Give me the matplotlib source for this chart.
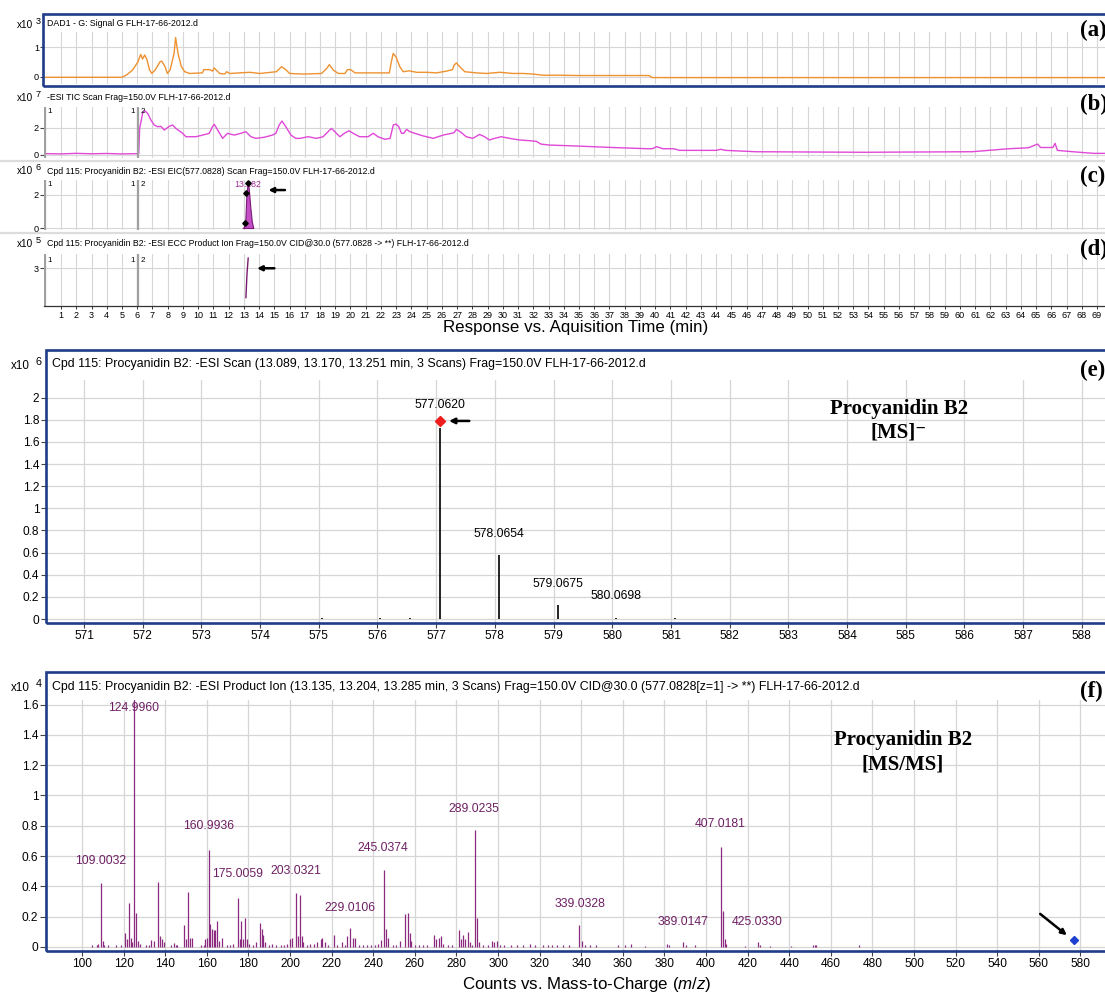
import matplotlib
matplotlib.use("Agg")
import matplotlib.pyplot as plt
from matplotlib.patches import Rectangle
from matplotlib.ticker import FuncFormatter
import numpy as np

plt.rcParams["font.family"] = ["Liberation Sans", "DejaVu Sans"]
plt.rcParams["mathtext.fontset"] = "custom"
plt.rcParams["mathtext.rm"] = "Liberation Sans"
plt.rcParams["mathtext.it"] = "Liberation Sans:italic"

# ---------------- data ----------------
# (a) DAD signal, x10^3
dad_t = [0, 5.0, 5.3, 5.7, 6.05, 6.23, 6.35, 6.49, 6.64, 6.81, 6.96, 7.18, 7.5, 7.61,
         7.83, 7.98, 8.16, 8.42, 8.52, 8.68, 8.9, 9.12, 9.45, 10.28, 10.37, 10.76, 10.94,
         11.05, 11.2, 11.42, 11.75, 11.86, 12.08, 12.73, 13.39, 14.05, 15.14, 15.47, 15.75,
         16.0, 16.9, 18.1, 18.44, 18.61, 18.88, 19.2, 19.64, 19.8, 20.01, 20.3, 21.06, 22.55,
         22.66, 22.8, 22.98, 23.24, 23.46, 23.85, 24.33, 25.0, 25.65, 26.3, 26.7, 26.8, 26.95,
         27.17, 27.5, 28.26, 28.92, 29.8, 30.67, 31.33, 31.98, 32.64, 33.7, 35.0, 39.6, 39.8, 70.5]
dad_v = [-0.02, -0.02, 0.06, 0.23, 0.51, 0.76, 0.6, 0.74, 0.58, 0.23, 0.11, 0.23, 0.51, 0.53,
         0.34, 0.11, 0.23, 0.79, 1.33, 0.79, 0.34, 0.17, 0.11, 0.13, 0.24, 0.24, 0.19,
         0.30, 0.22, 0.11, 0.09, 0.17, 0.11, 0.13, 0.15, 0.11, 0.17, 0.34, 0.24,
         0.11, 0.09, 0.11, 0.28, 0.41, 0.22, 0.11, 0.11, 0.24, 0.24, 0.13, 0.13, 0.13,
         0.45, 0.79, 0.68, 0.34, 0.17, 0.2, 0.15, 0.15, 0.13, 0.19, 0.24, 0.39, 0.47,
         0.34, 0.17, 0.13, 0.11, 0.15, 0.11, 0.11, 0.09, 0.05, 0.05, 0.04, 0.04, -0.03, -0.03]

# (b) TIC, x10^7
tic_t = [0, 1, 2, 3, 4, 5, 6.1, 6.16, 6.25, 6.35, 6.49, 6.69, 6.9, 7.12, 7.34, 7.55, 7.78,
         8.1, 8.32, 8.54, 8.98, 9.2, 9.85, 10.29, 10.73, 10.95, 11.06, 11.28, 11.61, 11.93,
         12.37, 12.8, 13.13, 13.46, 13.79, 14.33, 14.88, 15.1, 15.32, 15.5, 15.76, 16.09,
         16.41, 16.68, 17.22, 17.77, 18.2, 18.53, 18.75, 18.97, 19.3, 19.6, 19.9, 20.17,
         20.6, 21.15, 21.5, 21.8, 22.26, 22.6, 22.81, 22.98, 23.16, 23.35, 23.5, 23.68,
         23.9, 24.22, 24.77, 25.43, 26.08, 26.63, 26.8, 26.95, 27.2, 27.6, 28.03, 28.47,
         28.8, 29.12, 29.45, 29.9, 30.44, 31.1, 31.75, 32.2, 32.5, 33.05, 34.8, 37.2, 39.5,
         39.8, 40.1, 40.5, 41.2, 41.6, 44.0, 44.3, 44.6, 46.6, 53.7, 60.8, 63.2, 64.5,
         65.1, 65.3, 66.1, 66.25, 66.4, 67.4, 68.8, 70.5]
tic_v = [0.1, 0.08, 0.12, 0.09, 0.11, 0.08, 0.1, 1.95, 2.44, 3.05, 3.25, 3.05, 2.56, 2.2,
         2.07, 2.1, 1.83, 2.1, 2.2, 1.95, 1.59, 1.34, 1.34, 1.46, 1.59, 2.1, 2.25, 1.83,
         1.22, 1.59, 1.46, 1.59, 1.71, 1.34, 1.22, 1.3, 1.46, 1.59, 2.2, 2.49, 2.07, 1.46,
         1.22, 1.22, 1.34, 1.22, 1.34, 1.71, 1.95, 1.71, 1.34, 1.59, 1.78, 1.59, 1.34, 1.34,
         1.59, 1.34, 1.15, 1.22, 2.2, 2.27, 2.1, 1.59, 1.59, 1.88, 1.71, 1.59, 1.4, 1.22,
         1.46, 1.59, 1.64, 1.88, 1.71, 1.34, 1.22, 1.51, 1.34, 1.1, 1.22, 1.34, 1.22, 1.1,
         1.05, 1.0, 0.8, 0.73, 0.66, 0.55, 0.46, 0.46, 0.61, 0.46, 0.46, 0.34, 0.34, 0.42,
         0.34, 0.24, 0.2, 0.24, 0.46, 0.53, 0.8, 0.55, 0.55, 0.85, 0.34, 0.24, 0.12, 0.12]

# (c) EIC 577.0828, x10^6
eic_t = [12.92, 13.0, 13.089, 13.17, 13.251, 13.282, 13.33, 13.42, 13.52, 13.62]
eic_v = [0.0, 0.05, 0.3, 2.1, 2.7, 2.75, 2.3, 1.3, 0.4, 0.0]
ms_scans = [13.089, 13.170, 13.251]
eic_apex = 13.282

# (d) ECC product ion, x10^5
ecc_t = [13.135, 13.204, 13.285]
ecc_v = [2.28, 2.85, 3.25]

# segment boundaries
seg_t = [-0.05, 6.02]

# (e) MS scan, x10^6
ms1_mz = [575.05, 576.05, 576.55, 577.0620, 578.0654, 579.0675, 580.0698, 581.07, 583.0]
ms1_int = [0.005, 0.005, 0.005, 1.73, 0.575, 0.126, 0.012, 0.005, 0.004]
ms1_labels = {577.0620: 1.93, 578.0654: 0.77, 579.0675: 0.32, 580.0698: 0.21}
ms1_precursor = (577.0620, 1.79)

# (f) MS/MS product ion spectrum, x10^4
ms2_mz = [104.8, 107.1, 107.8, 109.0032, 109.9, 110.6, 112.6, 116.2, 118.7,
          120.8, 121.6, 122.6, 123.4, 124.1, 124.9960, 125.9, 126.7, 127.7,
          130.7, 132.3, 133.0, 134.7, 136.7, 137.6, 138.4, 139.2,
          142.7, 144.3, 145.2, 145.9, 148.8, 149.9, 151.1, 152.0, 152.7,
          157.2, 158.8, 159.3, 160.1, 160.9936, 161.7, 162.5, 163.3, 164.1, 164.9, 165.7, 167.3,
          169.5, 171.0, 172.8, 175.0059, 175.8, 176.6, 177.4, 178.6, 179.4, 180.4,
          182.0, 183.5, 185.6, 186.4, 187.2, 188.0, 190.0, 191.5, 193.2, 195.5, 197.0, 198.5,
          200.2, 201.0, 203.0321, 204.0, 204.8, 205.6, 206.4, 208.0, 209.5, 211.5, 213.2, 214.8,
          215.5, 217.0, 218.5, 221.1, 222.5, 225.1, 226.5, 227.5, 229.0106, 230.2, 231.2,
          233.0, 235.0, 237.0, 239.0, 241.0, 242.5, 243.7, 245.0374, 246.1, 247.2, 249.5,
          251.0, 253.1, 255.5, 256.5, 257.6, 258.4, 260.0, 262.0, 264.0, 266.0,
          269.1, 270.2, 271.5, 272.6, 273.5, 276.0, 278.0, 281.1, 282.2, 283.2, 284.3,
          285.4, 286.3, 287.5, 289.0235, 290.1, 291.0, 293.0, 295.0, 297.1, 298.2, 299.5,
          301.0, 303.0, 306.0, 309.0, 312.0, 315.5, 318.0, 321.6, 324.0, 326.0, 328.3,
          331.0, 334.0, 339.0328, 340.6, 342.0, 344.0, 347.0, 357.7, 361.0, 364.0, 370.6,
          381.2, 382.3, 389.0147, 390.3, 394.6, 407.0181, 408.0, 408.9, 409.8, 418.7,
          425.0330, 426.0, 430.7, 441.0, 451.3, 452.3, 453.0, 473.3]
ms2_int = [0.01, 0.015, 0.02, 0.42, 0.04, 0.015, 0.01, 0.01, 0.01,
           0.09, 0.05, 0.29, 0.06, 0.03, 1.65, 0.225, 0.04, 0.02,
           0.01, 0.01, 0.045, 0.04, 0.43, 0.07, 0.05, 0.03,
           0.01, 0.025, 0.015, 0.01, 0.145, 0.05, 0.36, 0.06, 0.06,
           0.01, 0.01, 0.05, 0.06, 0.64, 0.15, 0.12, 0.11, 0.11, 0.17, 0.04, 0.06,
           0.01, 0.01, 0.02, 0.325, 0.05, 0.17, 0.05, 0.19, 0.05, 0.02,
           0.01, 0.03, 0.155, 0.12, 0.08, 0.03, 0.01, 0.02, 0.01, 0.01, 0.01, 0.02,
           0.05, 0.06, 0.355, 0.07, 0.34, 0.07, 0.03, 0.01, 0.02, 0.02, 0.03, 0.05,
           0.06, 0.03, 0.01, 0.08, 0.01, 0.03, 0.01, 0.07, 0.125, 0.06, 0.06,
           0.01, 0.01, 0.01, 0.01, 0.01, 0.02, 0.045, 0.51, 0.12, 0.06, 0.01,
           0.01, 0.04, 0.22, 0.225, 0.09, 0.04, 0.01, 0.01, 0.01, 0.01,
           0.08, 0.05, 0.06, 0.07, 0.02, 0.01, 0.01, 0.11, 0.05, 0.08, 0.05,
           0.10, 0.03, 0.01, 0.77, 0.19, 0.03, 0.01, 0.01, 0.04, 0.03, 0.04,
           0.01, 0.01, 0.01, 0.01, 0.01, 0.02, 0.01, 0.015, 0.01, 0.01, 0.01,
           0.01, 0.01, 0.145, 0.04, 0.01, 0.01, 0.01, 0.015, 0.01, 0.02, 0.005,
           0.02, 0.015, 0.03, 0.015, 0.01, 0.66, 0.235, 0.05, 0.02, 0.005,
           0.03, 0.01, 0.005, 0.005, 0.01, 0.01, 0.01, 0.01]
# label centres (m/z, height) for the annotated fragments
ms2_labels = {109.0032: (109.0, 0.57), 124.9960: (125.0, 1.58), 160.9936: (161.0, 0.80),
              175.0059: (175.0, 0.48), 203.0321: (203.0, 0.50), 229.0106: (228.9, 0.26),
              245.0374: (244.8, 0.65), 289.0235: (288.5, 0.91), 339.0328: (339.6, 0.285),
              389.0147: (389.1, 0.165), 407.0181: (406.8, 0.81), 425.0330: (424.7, 0.165)}
ms2_precursor = (577.08, 0.045)

# ---------------- layout helpers ----------------
W, H = 1105, 994
fig = plt.figure(figsize=(W / 100, H / 100), dpi=100)
fig.patch.set_facecolor("white")


def box(x0, y0, x1, y1):
    return [x0 / W, 1 - y1 / H, (x1 - x0) / W, (y1 - y0) / H]


def ftext(x, y, s, **kw):
    return fig.text(x / W, 1 - y / H, s, **kw)


def frame(x0, y0, x1, y1, color="#1f3c88", lw=1.9):
    fig.add_artist(Rectangle((x0 / W, 1 - y1 / H), (x1 - x0) / W, (y1 - y0) / H,
                             transform=fig.transFigure, fill=False, ec=color, lw=lw,
                             zorder=20))


def hsep(y, x0=0, x1=W, color="#dcdcdc", lw=1.6):
    fig.add_artist(plt.Line2D([x0 / W, x1 / W], [1 - y / H, 1 - y / H],
                              transform=fig.transFigure, color=color, lw=lw, zorder=1))


GRID = "#d6d6d6"
T0, T1 = -0.118, 70.51
fmt_g = FuncFormatter(lambda v, p: f"{v:g}")


def style_top(ax, yticks):
    ax.set_xlim(T0, T1)
    ax.set_xticks(np.arange(1, 70))
    ax.set_yticks(yticks)
    ax.grid(True, color=GRID, lw=0.8)
    ax.set_axisbelow(True)
    for s in ax.spines.values():
        s.set_visible(False)
    ax.tick_params(axis="x", bottom=False, labelbottom=False)
    ax.tick_params(axis="y", length=2.8, width=0.8, color="#444444", labelsize=6.6, pad=0.8)
    ax.yaxis.set_major_formatter(fmt_g)


def scale_label(x, y, exp, size=7.2, gap=19):
    ftext(x, y, "x10", fontsize=size, ha="left", va="center")
    ftext(x + gap, y - size * 0.45, exp, fontsize=size * 0.92, ha="left", va="center")


def seg_marks(ax, ytxt):
    for t in seg_t:
        ax.axvline(t, color="#a0a0a0", lw=1.6, zorder=2)
    ax.text(seg_t[0] + 0.15, ytxt, "1", fontsize=5.8, ha="left", va="center")
    ax.text(seg_t[1] - 0.2, ytxt, "1", fontsize=5.8, ha="right", va="center")
    ax.text(seg_t[1] + 0.2, ytxt, "2", fontsize=5.8, ha="left", va="center")


TITLE_TOP = 6.3

# ---------------- (a) DAD ----------------
ax_a = fig.add_axes(box(44, 32, 1120, 84))
style_top(ax_a, [0, 1])
ax_a.set_ylim(-0.248, 1.52)
ax_a.plot(dad_t, dad_v, color="#ee9230", lw=1.0)
frame(43, 14, 1130, 86)
ftext(47, 24, "DAD1 - G: Signal G FLH-17-66-2012.d", fontsize=TITLE_TOP, va="center")
scale_label(17, 25, "3")

# ---------------- (b) TIC ----------------
ax_b = fig.add_axes(box(44, 107, 1120, 158))
style_top(ax_b, [0, 2])
ax_b.set_ylim(-0.22, 3.52)
ax_b.plot(tic_t, tic_v, color="#e048d8", lw=1.0)
seg_marks(ax_b, 3.2)
ftext(47, 98, "-ESI TIC Scan Frag=150.0V FLH-17-66-2012.d", fontsize=TITLE_TOP, va="center")
scale_label(17, 98, "7")
hsep(161)

# ---------------- (c) EIC ----------------
ax_c = fig.add_axes(box(44, 180, 1120, 230))
style_top(ax_c, [0, 2])
ax_c.set_ylim(-0.121, 2.909)
ax_c.fill_between(eic_t, eic_v, color="#c44ec4", ec="#7a1a7a", lw=0.8, zorder=3)
scan_v = np.interp(ms_scans, eic_t, eic_v)
ax_c.plot(ms_scans, scan_v, "D", color="black", ms=2.8, zorder=5)
ax_c.text(eic_apex, np.max(eic_v) - 0.1, f"{eic_apex:.3f}", fontsize=6.3, color="#a2309a",
          ha="center", va="center", zorder=4)
ax_c.annotate("", xy=(eic_apex + 1.15, 2.3), xytext=(eic_apex + 2.6, 2.3),
              arrowprops=dict(arrowstyle="-|>", color="black", lw=1.8, mutation_scale=7))
seg_marks(ax_c, 2.65)
ftext(47, 171, "Cpd 115: Procyanidin B2: -ESI EIC(577.0828) Scan Frag=150.0V FLH-17-66-2012.d",
      fontsize=TITLE_TOP, va="center")
scale_label(17, 171, "6")
hsep(233)

# ---------------- (d) ECC ----------------
ax_d = fig.add_axes(box(44, 254, 1120, 306))
style_top(ax_d, [3])
ax_d.set_ylim(2.075, 3.35)
ax_d.plot(ecc_t, ecc_v, color="#7a1a6e", lw=1.0)
ax_d.annotate("", xy=(ecc_t[-1] + 0.4, 3.0), xytext=(ecc_t[-1] + 1.9, 3.0),
              arrowprops=dict(arrowstyle="-|>", color="black", lw=1.8, mutation_scale=7))
seg_marks(ax_d, 3.2)
ax_d.spines["bottom"].set_visible(True)
ax_d.spines["bottom"].set_color("#333333")
ax_d.spines["bottom"].set_linewidth(0.9)
ax_d.tick_params(axis="x", bottom=True, labelbottom=True, length=2.5, width=0.7,
                 color="#333333", labelsize=6.5, pad=1.0)
ax_d.set_xticklabels([str(i) for i in range(1, 70)])
ftext(47, 244, "Cpd 115: Procyanidin B2: -ESI ECC Product Ion Frag=150.0V CID@30.0 "
      "(577.0828 -> **) FLH-17-66-2012.d", fontsize=TITLE_TOP, va="center")
scale_label(17, 244, "5")
ftext(576, 328, "Response vs. Aquisition Time (min)", fontsize=12.2, ha="center", va="center")

# panel letters on the right
serif = ["Liberation Serif", "DejaVu Serif"]
for lab, yy in [("(a)", 30), ("(b)", 104), ("(c)", 176), ("(d)", 249), ("(e)", 370), ("(f)", 691)]:
    ftext(1080, yy, lab, fontsize=16.5, fontweight="bold", family=serif, va="center", ha="left",
          zorder=30)


def style_ms(ax):
    ax.grid(True, color=GRID, lw=0.9)
    ax.set_axisbelow(True)
    for s in ax.spines.values():
        s.set_visible(False)
    ax.tick_params(axis="both", length=4, width=0.8, color="#444444", labelsize=8.6, pad=1.5)
    ax.yaxis.set_major_formatter(fmt_g)


# ---------------- (e) MS ----------------
ax_e = fig.add_axes(box(47, 380, 1120, 622))
style_ms(ax_e)
ax_e.set_xlim(570.37, 588.65)
ax_e.set_ylim(-0.027, 2.16)
ax_e.set_xticks(np.arange(571, 589))
ax_e.set_yticks(np.arange(0, 2.01, 0.2))
ax_e.vlines(ms1_mz, 0, ms1_int, color="black", lw=1.2, zorder=3)
for mz, yl in ms1_labels.items():
    ax_e.text(mz, yl, f"{mz:.4f}", fontsize=8.8, ha="center", va="center")
ax_e.plot(*ms1_precursor, "D", color="#ee1c1c", ms=5, zorder=5)
ax_e.annotate("", xy=(ms1_precursor[0] + 0.11, ms1_precursor[1]),
              xytext=(ms1_precursor[0] + 0.55, ms1_precursor[1]),
              arrowprops=dict(arrowstyle="-|>", color="black", lw=1.8, mutation_scale=8))
frame(46, 350, 1130, 623)
ftext(52, 364, "Cpd 115: Procyanidin B2: -ESI Scan (13.089, 13.170, 13.251 min, 3 Scans) "
      "Frag=150.0V FLH-17-66-2012.d", fontsize=8.9, va="center")
scale_label(11, 366, "6", size=8.4, gap=25)
ftext(899, 409, "Procyanidin B2", fontsize=15, fontweight="bold", family=serif,
      ha="center", va="center")
ftext(899, 433, "[MS]\u207b", fontsize=15, fontweight="bold", family=serif,
      ha="center", va="center")

# ---------------- (f) MS/MS ----------------
PURPLE = "#8b2a7e"
LBL = "#6e1f63"
ax_f = fig.add_axes(box(46, 700, 1120, 950))
style_ms(ax_f)
ax_f.set_xlim(82.7, 599.0)
ax_f.set_ylim(-0.02, 1.63)
ax_f.set_xticks(np.arange(100, 600, 20))
ax_f.set_yticks(np.arange(0, 1.61, 0.2))
ax_f.vlines(ms2_mz, 0, ms2_int, color=PURPLE, lw=0.9, zorder=3)
for mz, (xl, yl) in ms2_labels.items():
    ax_f.text(xl, yl, f"{mz:.4f}", fontsize=8.8, color=LBL, ha="center", va="center", zorder=4)
ax_f.plot(*ms2_precursor, "D", color="#1f3fd0", ms=4.5, zorder=5)
ax_f.annotate("", xy=(ms2_precursor[0] - 2.6, ms2_precursor[1] + 0.021),
              xytext=(ms2_precursor[0] - 17.5, ms2_precursor[1] + 0.185),
              arrowprops=dict(arrowstyle="-|>", color="black", lw=1.8, mutation_scale=8))
frame(46, 672, 1130, 951)
ftext(52, 687, "Cpd 115: Procyanidin B2: -ESI Product Ion (13.135, 13.204, 13.285 min, 3 Scans) "
      "Frag=150.0V CID@30.0 (577.0828[z=1] -> **) FLH-17-66-2012.d", fontsize=8.9, va="center")
scale_label(11, 688, "4", size=8.4, gap=25)
ftext(903, 740, "Procyanidin B2", fontsize=15, fontweight="bold", family=serif,
      ha="center", va="center")
ftext(903, 764, "[MS/MS]", fontsize=15, fontweight="bold", family=serif,
      ha="center", va="center")
ftext(587, 984, r"Counts vs. Mass-to-Charge ($\mathit{m/z}$)", fontsize=12.2,
      ha="center", va="center")

fig.savefig("out.png", dpi=100)
